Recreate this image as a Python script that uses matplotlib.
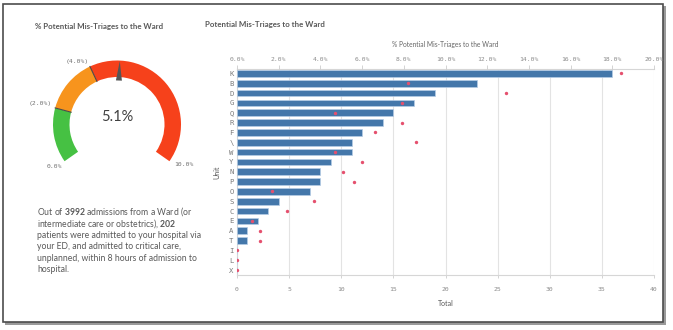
import matplotlib
matplotlib.use("Agg")
import matplotlib.pyplot as plt
from matplotlib.patches import Wedge, Rectangle, Polygon
import numpy as np

plt.rcParams['mathtext.fontset'] = 'custom'
plt.rcParams['mathtext.rm'] = 'Lato'
plt.rcParams['mathtext.bf'] = 'Lato:bold'

# ---- data ----
gauge_value = 5.1
gauge_limits = [0.0, 2.0, 4.0, 10.0]
gauge_colors = ['#46c143', '#f7941d', '#f6411b']
gauge_labels = ['0.0%', '(2.0%)', '(4.0%)', '10.0%']

units = ['K', 'B', 'D', 'G', 'Q', 'R', 'F', '\\', 'W', 'Y', 'N', 'P', 'O', 'S',
         'C', 'E', 'A', 'T', 'I', 'L', 'X']
totals = [36, 23, 19, 17, 15, 14, 12, 11, 11, 9, 8, 8, 7, 4, 3, 2, 1, 1, 0, 0, 0]
pct_mistriage = [18.4, 8.2, 12.9, 7.9, 4.7, 7.9, 6.6, 8.6, 4.7, 6.0, 5.1, 5.6,
                 1.7, 3.7, 2.4, 0.7, 1.1, 1.1, 0.0, 0.0, 0.0]
total_ticks = [0, 5, 10, 15, 20, 25, 30, 35, 40]
pct_ticks = [0, 2, 4, 6, 8, 10, 12, 14, 16, 18, 20]

W, H = 673, 330
fig = plt.figure(figsize=(W / 100, H / 100), dpi=100)
bg = fig.add_axes([0, 0, 1, 1])
bg.set_xlim(0, W)
bg.set_ylim(0, H)
bg.axis('off')

def Y(y):
    return H - y

# frame with shadow
bg.add_patch(Rectangle((5, Y(324.5)), 661, 319, facecolor='#9a9a9a', edgecolor='none', zorder=0))
bg.add_patch(Rectangle((3, Y(322)), 660, 318, facecolor='white', edgecolor='#4d4d4d', lw=1.2, zorder=1))

# ---- gauge ----
cx, cy = 117, Y(124.5)
r_out, width = 64, 16.5
span = 250.0
start = 215.0
vmax = gauge_limits[-1]

def ang(v):
    return start - span * v / vmax

for i in range(len(gauge_colors)):
    a1, a2 = ang(gauge_limits[i + 1]), ang(gauge_limits[i])
    bg.add_patch(Wedge((cx, cy), r_out, a1, a2, width=width, facecolor=gauge_colors[i],
                       edgecolor='none', zorder=2))
for v in gauge_limits[1:-1]:
    t = np.deg2rad(ang(v))
    bg.plot([cx + (r_out - width) * np.cos(t), cx + r_out * np.cos(t)],
            [cy + (r_out - width) * np.sin(t), cy + r_out * np.sin(t)],
            color='#4a4a4a', lw=0.8, zorder=3)

# needle
t = np.deg2rad(ang(gauge_value))
tip = (cx + (r_out - 0.5) * np.cos(t), cy + (r_out - 0.5) * np.sin(t))
rb = r_out - 20
perp = np.array([-np.sin(t), np.cos(t)])
base = np.array([cx + rb * np.cos(t), cy + rb * np.sin(t)])
bg.add_patch(Polygon([tip, base + 3 * perp, base - 3 * perp], closed=True,
                     facecolor='#555555', edgecolor='none', zorder=4))

bg.text(cx, Y(117), f'{gauge_value:.1f}%', fontsize=10.5, family='Lato', color='#404040',
        ha='center', va='center', zorder=5)

lab_kw = dict(fontsize=4.6, family='DejaVu Sans Mono', color='#707070', zorder=5)
bg.text(54, Y(166), gauge_labels[0], ha='center', va='center', **lab_kw)
bg.text(52, Y(104), gauge_labels[1], ha='right', va='center', **lab_kw)
bg.text(89, Y(61), gauge_labels[2], ha='right', va='center', **lab_kw)
bg.text(184, Y(164.5), gauge_labels[3], ha='center', va='center', **lab_kw)

# titles
bg.text(35, Y(26), '% Potential Mis-Triages to the Ward', fontsize=5.7, family='Lato',
        weight='bold', color='#595959', ha='left', va='center')
bg.text(205, Y(25), 'Potential Mis-Triages to the Ward', fontsize=5.7, family='Lato',
        weight='bold', color='#595959', ha='left', va='center')

# paragraph
lines = [r'Out of $\mathbf{3992}$ admissions from a Ward (or',
         r'intermediate care or obstetrics), $\mathbf{202}$',
         'patients were admitted to your hospital via',
         'your ED, and admitted to critical care,',
         'unplanned, within 8 hours of admission to',
         'hospital.']
for i, ln in enumerate(lines):
    bg.text(37, Y(212 + i * 11.6), ln, fontsize=6.2, family='Lato', color='#595959',
            ha='left', va='center')

# ---- bar chart ----
x0, x1, y0, y1 = 237, 654, 69, 275
ax = fig.add_axes([x0 / W, (H - y1) / H, (x1 - x0) / W, (y1 - y0) / H])
ypos = np.arange(len(units))
ax.barh(ypos, totals, height=0.68, color='#4477aa', edgecolor='#b6cde6', lw=0.5, zorder=3)
ax.set_xlim(0, 40)
ax.set_ylim(len(units) - 0.5, -0.45)
ax.set_yticks(ypos)
ax.set_yticklabels(units)
ax.set_xticks(total_ticks)
ax.grid(axis='x', color='#e3e3e3', lw=0.8, zorder=0)
ax.tick_params(axis='x', length=2.5, width=0.6, color='#cccccc', labelsize=4.6,
               labelcolor='#8a8a8a', pad=6)
ax.tick_params(axis='y', length=0, labelsize=5.2, labelcolor='#7a7a7a', pad=2.5)
for lbl in ax.get_xticklabels() + ax.get_yticklabels():
    lbl.set_family('DejaVu Sans Mono')
for s in ['top', 'bottom', 'left']:
    ax.spines[s].set_color('#d6d6d6')
    ax.spines[s].set_linewidth(0.8)
ax.spines['right'].set_visible(False)
ax.set_xlabel('Total', fontsize=5, family='Lato', color='#555555', labelpad=6)
ax.set_ylabel('Unit', fontsize=5, family='Lato', color='#555555', labelpad=6)

ax2 = ax.twiny()
ax2.set_xlim(0, 20)
ax2.scatter(pct_mistriage, ypos, s=6, color='#e5506e', zorder=4, linewidths=0)
ax2.set_ylim(ax.get_ylim())
ax2.set_xticks(pct_ticks)
ax2.set_xticklabels([f'{v:.1f}%' for v in pct_ticks])
ax2.tick_params(axis='x', length=3, width=0.6, color='#cccccc', labelsize=4.6,
                labelcolor='#8a8a8a', pad=2)
for lbl in ax2.get_xticklabels():
    lbl.set_family('DejaVu Sans Mono')
for s in ax2.spines.values():
    s.set_visible(False)
ax2.set_xlabel('% Potential Mis-Triages to the Ward', fontsize=4.8, family='Lato',
               color='#666666', labelpad=7)

fig.savefig('out.png', dpi=100)
